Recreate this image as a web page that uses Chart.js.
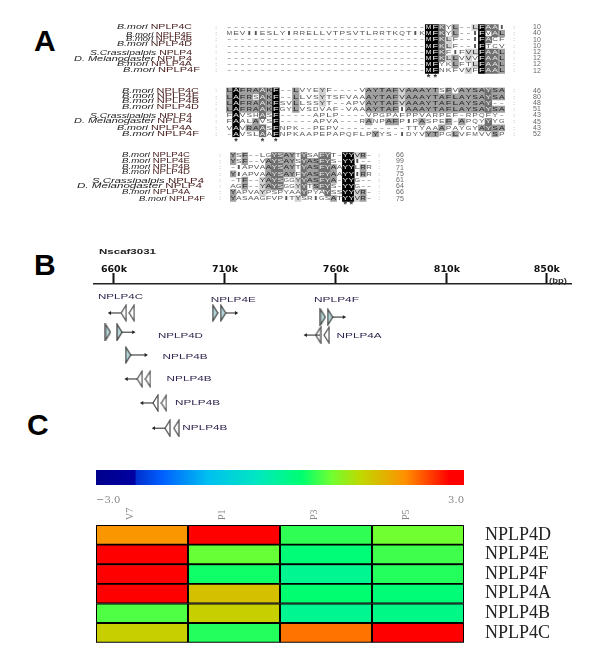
<!DOCTYPE html>
<html><head><meta charset="utf-8">
<script src="https://cdn.jsdelivr.net/npm/chart.js@4"></script>
<style>
html,body{margin:0;padding:0;background:#fff;width:600px;height:662px;overflow:hidden}
canvas{position:absolute;left:0}
.soft{filter:blur(0.45px)}
.panel{position:absolute;font:bold 30px/30px "Liberation Sans",Arial,sans-serif;color:#000}
</style></head><body>
<div class="panel" style="left:34px;top:26px">A</div>
<div class="panel" style="left:34px;top:250px">B</div>
<div class="panel" style="left:27px;top:410px">C</div>
<canvas id="a1" class="soft" width="600" height="72" style="top:12px"></canvas>
<canvas id="a2" class="soft" width="600" height="64" style="top:84px"></canvas>
<canvas id="a3" class="soft" width="600" height="62" style="top:149px"></canvas>
<canvas id="map" class="soft" width="600" height="205" style="top:240px"></canvas>
<canvas id="bar" width="600" height="45" style="top:465px;filter:blur(.3px)"></canvas>
<canvas id="heat" width="600" height="150" style="top:505px;filter:blur(.2px)"></canvas>
<script>
// ---------- data ----------
const speciesNames = ['B.mori','B.mori','B.mori','B.mori','S.Crassipalpis','D. Melanogaster','B.mori','B.mori'];
const geneNames = ['NPLP4C','NPLP4E','NPLP4B','NPLP4D','NPLP4','NPLP4','NPLP4A','NPLP4F'];
const seqBlock1 = [
 '------------------------------MFKYL--LFAAI',
 'MEVIIESLYIRRELLVTPSVTLRRTKQTIKMFKYL--IFVAL',
 '------------------------------MFKLF--IFACF',
 '------------------------------MFKLF--IFTCV',
 '------------------------------MFKFIFVLFAAL',
 '------------------------------MFKLLVVVFAAL',
 '------------------------------MFYKLFTLFAAL',
 '------------------------------MFNKFVVFFAAL'];
const seqBlock2 = [
 'LAFRAAKF--LVYEYF----VAYTAFVAAAYTSFVAYSAYSA',
 'LAFRSAKF--LLVSYTSFVAAAYTAFVAAAYTAFLAYSAYSA',
 'LAFRAAKFSVLLSSYT--APVAYTAFVAAAYTAFLAYSAY--',
 'LAFRAAKFGYLVSDVAF-VAAAYTAFIAAAYTAFLAYSAYSA',
 'FAVSHASF-----APLP----VPGPAFPPVARPEF-RPQFY-',
 'FAALAVSF-----APVA---RANPAFPIPASPEF-APQYYYG',
 'VAVRAASFNPK--PEPV----------TTYAAAPAYGYAYSA',
 '-AVSLAAFNPKAAPEPAPQFLPYYS-IDYVYTPGLVFMVVSP'];
const seqBlock3 = [
 'YSF--LGYSAYTYSAFYT-YYVR-',
 'YSF--VAYSAYSYASFYS-YYI--',
 '-IAPVAAYSAYTYASFYAAYYLRR',
 'YIAPVAAYSAYFYASFYAAYYIRR',
 '-TF--YAYSGGYYASFYA-YYG--',
 'AGF--YAYSGGYYTSFYS-YYG--',
 'YAPVAYPSPYAAYPYAYSSYYVR-',
 'YASAAGFVPITYSRIGSATYYVR-'];
const endCounts1 = [10,40,10,10,12,12,12,12];
const endCounts2 = [46,80,48,51,43,45,43,52];
const endCounts3 = [66,99,71,75,61,64,66,75];
const starCols1 = [30,31];
const starCols2 = [1,5,7];
const starCols3 = [19,20];

const axisTickKb = [660,710,760,810,855];
const axisTickLabels = ['660k','710k','760k','810k','850k'];
const mapGenes = ['NPLP4C','NPLP4E','NPLP4F','NPLP4A','NPLP4D','NPLP4B','NPLP4B','NPLP4B','NPLP4B'];
const mapTrack = [0,0,0.17,0.92,0.8,1.75,2.75,3.75,4.8];
const mapExonKb = [[664.4,668.0],[705.6,709.2],[754.1,757.4],[752.0,755.8],[657.3,662.5],[666.4],[671.6,675.3],[678.7,682.5],[684.1,688.1]];
const mapArrowFromKb = [663,710.5,758.5,752.8,663.5,667.5,670.4,677.6,683];
const mapArrowToKb = [658.2,715,763.6,746.4,668.7,674.3,665.7,672.7,678];
const mapLabelKb = [652.8,703.6,750.1,760.3,679.8,681.9,683.7,687.5,690.8];
const mapLabelTrack = [-0.67,-0.54,-0.54,0.95,0.96,1.82,2.74,3.74,4.79];

const samples = ['V7','P1','P3','P5'];
const heatGenes = ['NPLP4D','NPLP4E','NPLP4F','NPLP4A','NPLP4B','NPLP4C'];
const exprV7 = [1.98,2.9,2.9,2.9,0.7,1.41];
const exprP1 = [2.9,0.8,0.42,1.56,1.41,0.51];
const exprP3 = [0.56,0.3,0.07,0.36,0.07,2.18];
const exprP5 = [0.84,0.63,0.51,0.3,0.15,2.9];
const scaleEnds = [-3,3];

// ---------- styling ----------
Chart.defaults.animation = false;
Chart.defaults.responsive = false;
Chart.defaults.plugins.legend.display = false;
Chart.defaults.plugins.tooltip.enabled = false;
const SANS = '"Liberation Sans",Arial,sans-serif';
const stops = [[0,'#00008c'],[.105,'#0000a0'],[.11,'#0030d0'],[.18,'#0060ff'],[.305,'#00c0f0'],[.44,'#00e8c0'],[.56,'#00ff70'],[.64,'#70ff30'],[.72,'#c0d800'],[.84,'#ff9000'],[.96,'#ff0000'],[1,'#ff0000']];
function hex(c){return [1,3,5].map(i=>parseInt(c.substr(i,2),16));}
function colorFor(v){
  const t=(v+3)/6;
  for(let i=1;i<stops.length;i++){ if(t<=stops[i][0]){
    const f=(t-stops[i-1][0])/(stops[i][0]-stops[i-1][0]), a=hex(stops[i-1][1]), b=hex(stops[i][1]);
    return 'rgb('+a.map((p,k)=>Math.round(p+(b[k]-p)*f)).join(',')+')';
  }}
  return stops[stops.length-1][1];
}
function stretched(ctx,parts,x,y,w,align){
  ctx.save(); ctx.textBaseline='middle'; ctx.textAlign='left';
  let tot=0; const ws=parts.map(p=>{ctx.font=p[1];const m=ctx.measureText(p[0]).width;tot+=m;return m;});
  const sx=w/tot; ctx.translate(align==='center'?x-w/2:x,y); ctx.scale(sx,1);
  let cx=0; parts.forEach((p,i)=>{ctx.font=p[1];ctx.fillStyle=p[2];ctx.fillText(p[0],cx,0);cx+=ws[i];});
  ctx.restore();
}

// ---------- alignment blocks ----------
function shades(seqs){
  const n=seqs[0].length; const out=seqs.map(()=>[]);
  for(let c=0;c<n;c++){
    const cnt={}; seqs.forEach(s=>{const ch=s[c]; if(ch!=='-')cnt[ch]=(cnt[ch]||0)+1;});
    let best=null,b=0; for(const k in cnt) if(cnt[k]>b){b=cnt[k];best=k;}
    seqs.forEach((s,r)=>{
      let lvl=0; if(s[c]===best){ if(b===8)lvl=4; else if(b>=6)lvl=3; else if(b>=4)lvl=2; else if(b===3)lvl=1; }
      out[r][c]=lvl;
    });
  }
  return out;
}
const shadeFill=['rgba(0,0,0,0)','#d2d2d2','#a0a0a0','#707070','#000000'];
const shadeText=['#555','#333','#222','#eee','#fff'];
function alignChart(id,seqs,counts,stars,L){
  const lv=shades(seqs), n=seqs[0].length, rowsN=seqs.length;
  const labels=[...Array(n).keys()];
  const ds=seqs.map((s,r)=>({
    data:labels.map(()=>[r,r+1]), backgroundColor:lv[r].map(l=>shadeFill[l]),
    grouped:false, barPercentage:1, categoryPercentage:1, borderWidth:0
  }));
  new Chart(document.getElementById(id),{
    type:'bar', data:{labels,datasets:ds},
    options:{
      layout:{autoPadding:false,padding:{left:L.left,right:600-L.right,top:L.top,bottom:L.bottom}},
      scales:{x:{display:false},y:{display:false,min:0,max:rowsN,reverse:true}}
    },
    plugins:[{id:'letters',afterDatasetsDraw(ch){
      const c=ch.ctx,x=ch.scales.x,y=ch.scales.y;
      const f='6px "Liberation Sans",Arial,sans-serif';
      seqs.forEach((s,r)=>{
        const cy=y.getPixelForValue(r+.5);
        for(let k=0;k<n;k++){
          stretched(c,[[s[k],f,shadeText[lv[r][k]]]],x.getPixelForValue(k),cy,s[k]==='-'?4:Math.min(L.cw,5.6),'center');
        }
        c.save();c.font='6px '+SANS;c.fillStyle='#555';c.textAlign='center';c.textBaseline='middle';
        c.fillText(':',L.colonL,cy);c.fillText(':',L.colonR,cy);
        c.fillStyle='#666';c.font='7px '+SANS;c.fillText(String(counts[r]),L.num,cy);
        c.restore();
        const span=L.spans[r];
        stretched(c,[[speciesNames[r]+' ','italic 7px '+SANS,'#222'],[geneNames[r],'7px '+SANS,'#4a2020']],span[0],L.labelY[r]-L.canvasTop,span[1]-span[0],'left');
      });
      c.save();c.font='bold 9px '+SANS;c.fillStyle='#333';c.textAlign='center';c.textBaseline='middle';
      stars.forEach(k=>c.fillText('*',x.getPixelForValue(k),L.starY-L.canvasTop));
      c.restore();
    }}]
  });
}
alignChart('a1',seqBlock1,endCounts1,starCols1,{left:226,right:505,top:12.2,bottom:10.2,canvasTop:12,cw:6.64,colonL:216,colonR:514,num:537,starY:77.5,
  labelY:[27.3,34.7,39,44.3,52.7,58.7,64.3,70.3],
  spans:[[117,192],[126,192],[126,192],[117,192],[90,192],[74,192],[117,192],[123,200]]});
alignChart('a2',seqBlock2,endCounts2,starCols2,{left:226,right:505,top:3.6,bottom:10.8,canvasTop:84,cw:6.64,colonL:216,colonR:514,num:537,starY:141.5,
  labelY:[90.7,95.7,101,106.7,116,120.7,127.7,134],
  spans:[[122,199],[122,199],[122,199],[122,199],[90,192],[74,192],[117,192],[122,199]]});
alignChart('a3',seqBlock3,endCounts3,starCols3,{left:230,right:372,top:3.2,bottom:9.2,canvasTop:149,cw:5.9,colonL:220,colonR:379,num:400,starY:204.5,
  labelY:[155.3,161,166.7,172,180.7,186,192.3,199],
  spans:[[122,190],[122,190],[122,190],[122,190],[92,204],[77,202],[122,190],[139,205]]});

// ---------- gene map ----------
function triangle(dir,fill,edge){
  const cv=document.createElement('canvas'); cv.width=7; cv.height=18;
  const c=cv.getContext('2d');
  c.beginPath();
  if(dir>0){c.moveTo(1,1);c.lineTo(6,9);c.lineTo(1,17);}else{c.moveTo(6,1);c.lineTo(1,9);c.lineTo(6,17);}
  c.closePath(); c.fillStyle=fill; c.fill(); c.lineWidth=1.3; c.strokeStyle=edge; c.stroke();
  return cv;
}
const triR=triangle(1,'#b5d6da','#444'), triL=triangle(-1,'#ffffff','#555');
const mapDs=[];
mapGenes.forEach((g,i)=>{
  const dir=mapArrowToKb[i]>mapArrowFromKb[i]?1:-1;
  mapDs.push({type:'scatter',showLine:true,data:[{x:mapArrowFromKb[i],y:mapTrack[i]},{x:mapArrowToKb[i],y:mapTrack[i]}],
    borderColor:'#222',borderWidth:1,pointStyle:'triangle',pointRadius:[0,2.2],pointRotation:dir>0?90:-90,pointBackgroundColor:'#222',pointBorderWidth:0,clip:false});
  mapDs.push({type:'scatter',data:mapExonKb[i].map(k=>({x:k,y:mapTrack[i]})),pointStyle:dir>0?triR:triL,pointRadius:4,clip:false});
});
new Chart(document.getElementById('map'),{
  type:'scatter',data:{datasets:mapDs},
  options:{
    layout:{autoPadding:false,padding:{left:94,right:29}},
    scales:{
      x:{type:'linear',position:'top',min:651,max:865.9,
        afterFit(s){s.height=44;},
        afterBuildTicks(s){s.ticks=axisTickKb.map(v=>({value:v}));},
        border:{display:true,color:'#222',width:1.6},
        grid:{display:true,drawOnChartArea:false,drawTicks:true,tickLength:11,tickWidth:2,tickColor:'#111'},
        ticks:{autoSkip:false,maxRotation:0,padding:-2,color:'#111',font:{family:'"DejaVu Sans"',size:9.5,weight:'bold'},
          callback(v,i){return axisTickLabels[i];}}
      },
      y:{display:false,min:-1.2083,max:5.5,reverse:true}
    }
  },
  plugins:[{id:'mapText',afterDatasetsDraw(ch){
    const c=ch.ctx,x=ch.scales.x,y=ch.scales.y;
    mapGenes.forEach((g,i)=>stretched(c,[[g,'7.5px '+SANS,'#33264f']],x.getPixelForValue(mapLabelKb[i]),y.getPixelForValue(mapLabelTrack[i]),45,'left'));
    stretched(c,[['Nscaf3031','bold 7.5px '+SANS,'#222']],99,12,57,'left');
    stretched(c,[['(bp)','bold 6.5px '+SANS,'#333']],549,41,18,'left');
  }}]
});

// ---------- colour scale ----------
new Chart(document.getElementById('bar'),{
  type:'bar',
  data:{labels:['scale'],datasets:[{data:[scaleEnds],barPercentage:1,categoryPercentage:1,borderWidth:0,
    backgroundColor(ctx){
      const a=ctx.chart.chartArea; if(!a) return '#000';
      const g=ctx.chart.ctx.createLinearGradient(a.left,0,a.right,0);
      stops.forEach(s=>g.addColorStop(s[0],s[1]));
      return g;
    }}]},
  options:{
    indexAxis:'y',
    layout:{autoPadding:false,padding:{left:96,right:136,top:5}},
    scales:{
      x:{type:'linear',min:scaleEnds[0],max:scaleEnds[1],
        afterFit(s){s.height=25;},
        afterBuildTicks(s){s.ticks=scaleEnds.map(v=>({value:v}));},
        border:{display:false},grid:{display:false,drawTicks:false},
        ticks:{align:'inner',autoSkip:false,maxRotation:0,padding:9,color:'#888',font:{family:'"DejaVu Serif"',size:10},
          callback(v){return v.toFixed(1).replace('-','\u2212');}}
      },
      y:{display:false}
    }
  }
});

// ---------- heat map ----------
const exprBySample=[exprV7,exprP1,exprP3,exprP5];
new Chart(document.getElementById('heat'),{
  type:'bar',
  data:{labels:heatGenes,datasets:samples.map((s,j)=>({
    label:s,data:heatGenes.map(()=>[j,j+1]),backgroundColor:exprBySample[j].map(colorFor),
    grouped:false,barPercentage:1,categoryPercentage:1,borderWidth:1.3,borderColor:'#000',borderSkipped:false
  }))},
  options:{
    indexAxis:'y',
    layout:{autoPadding:false,padding:{left:96,bottom:12.3}},
    scales:{
      x:{type:'linear',position:'top',min:0,max:4,
        afterFit(s){s.height=20;s.paddingLeft=0;s.paddingRight=0;},
        afterBuildTicks(s){s.ticks=samples.map((n,j)=>({value:j+.5}));},
        border:{display:false},grid:{display:false,drawTicks:false},
        ticks:{autoSkip:false,minRotation:90,maxRotation:90,padding:5,color:'#888',font:{family:'"Liberation Serif"',size:10},
          callback(v,i){return samples[i];}}
      },
      y:{type:'category',position:'right',
        afterFit(s){s.width=136;s.paddingTop=0;s.paddingBottom=0;},
        border:{display:false},grid:{display:false,drawTicks:false},
        ticks:{autoSkip:false,padding:21,color:'#222',font:{family:'"Liberation Serif"',size:18}}
      }
    }
  }
});
</script>
</body></html>
